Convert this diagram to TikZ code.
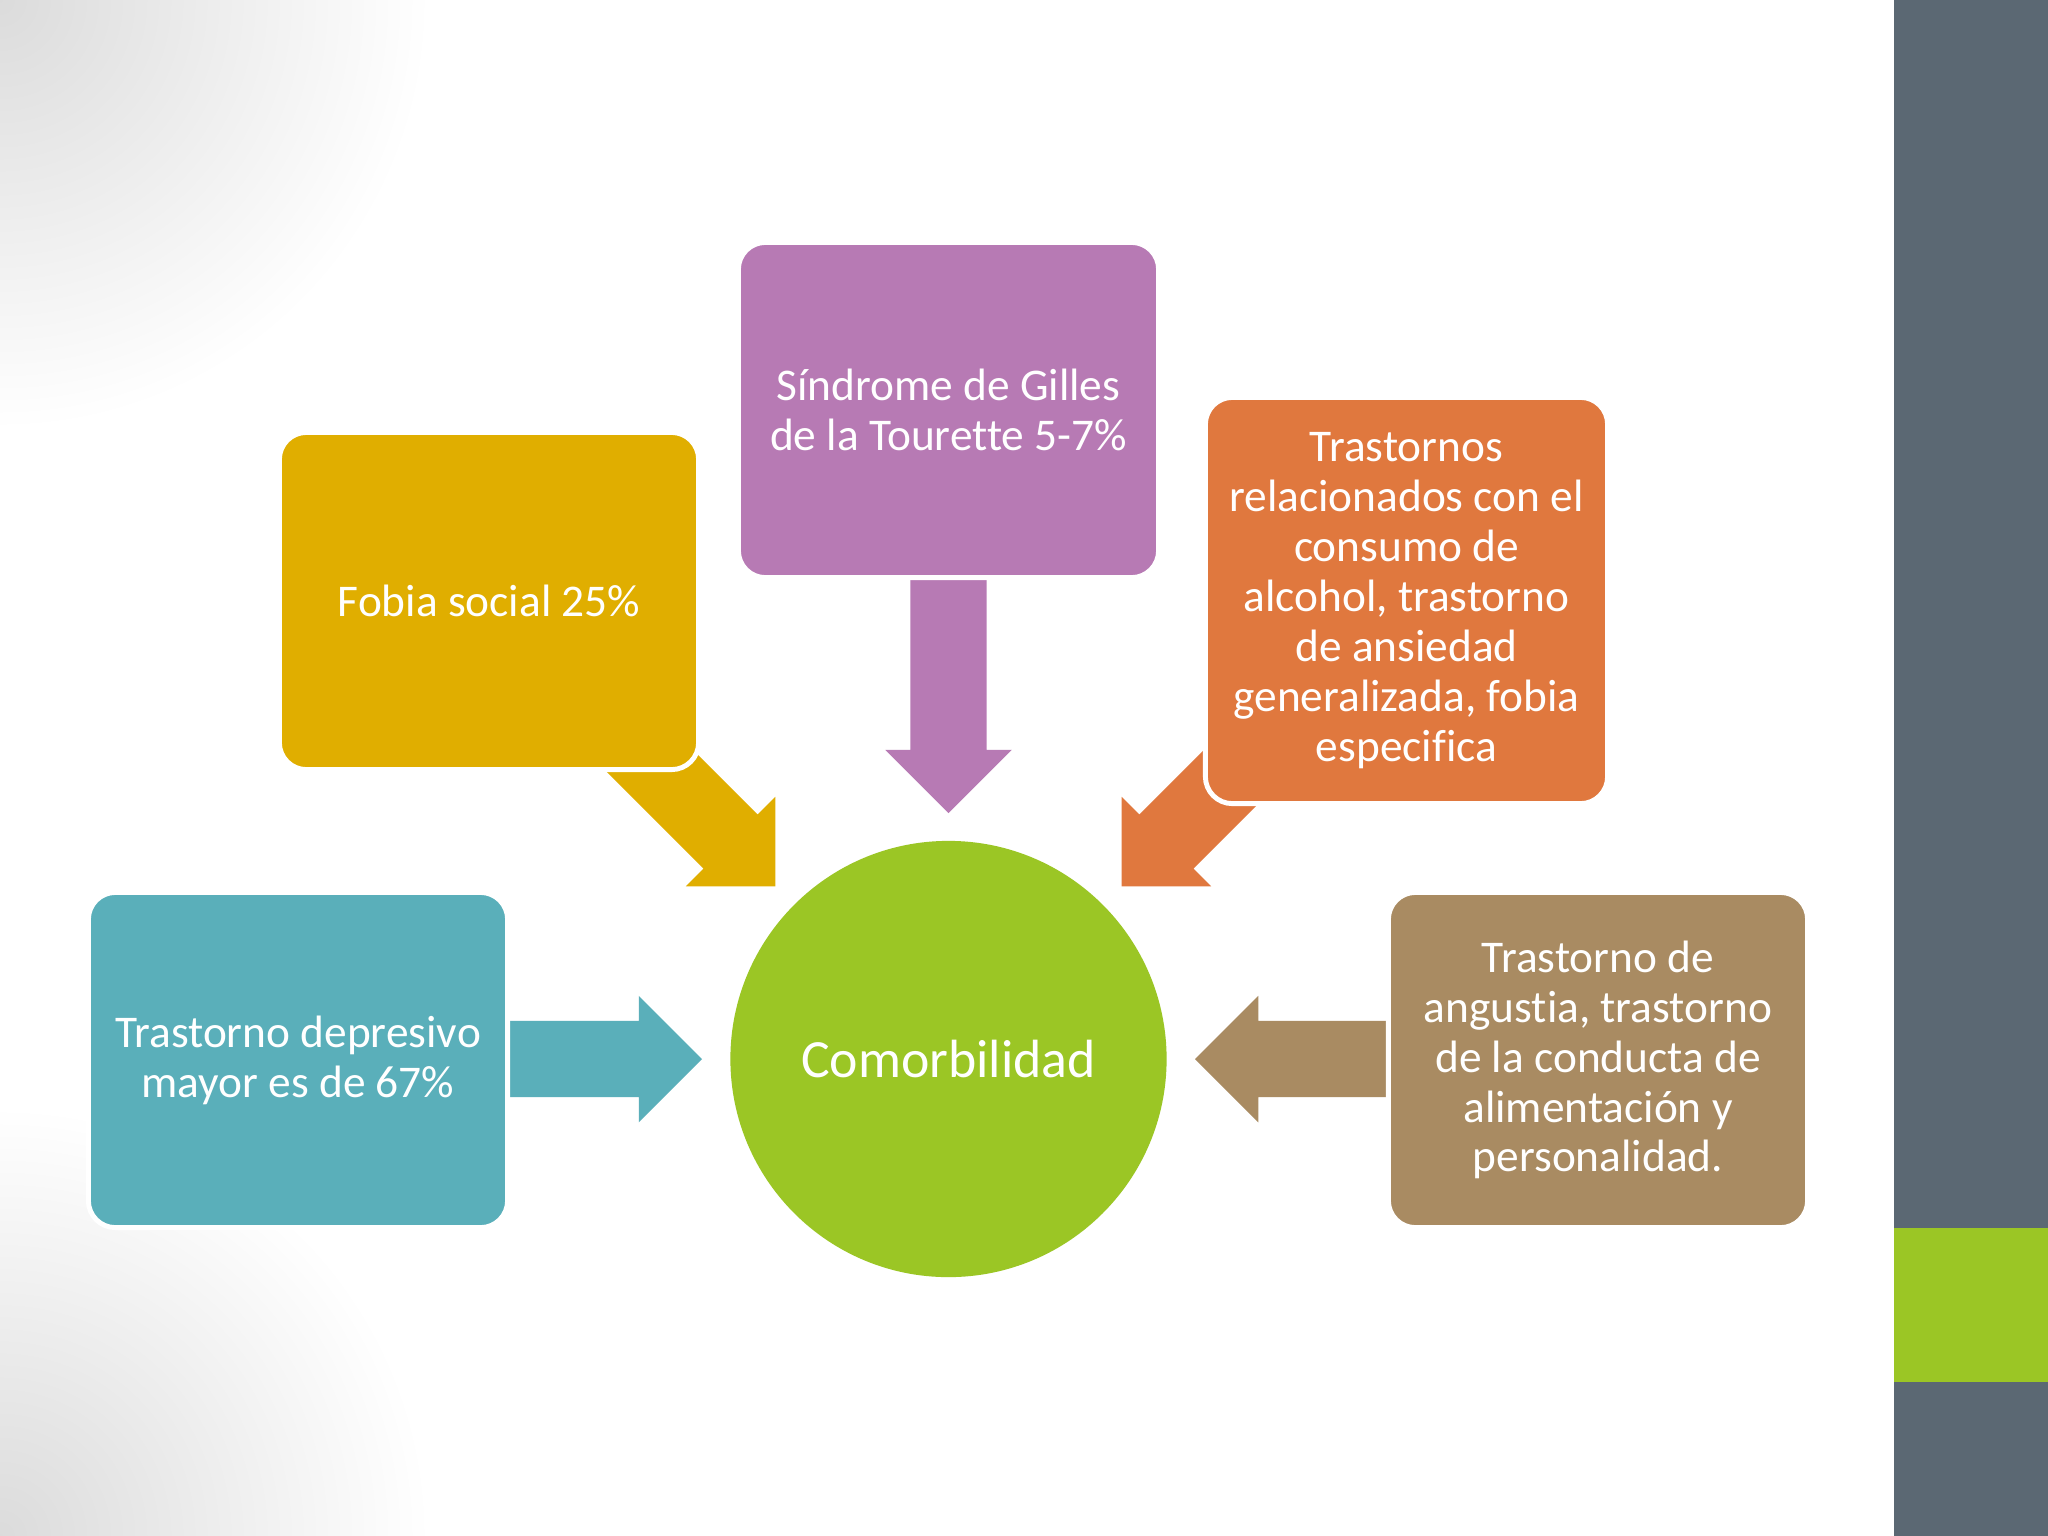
\documentclass[tikz,border=0pt]{standalone}
\usepackage{fontspec}
\setmainfont[Ligatures=NoCommon]{Carlito}
\usetikzlibrary{shapes.arrows}

\definecolor{depcol}{HTML}{5AAFBA}
\definecolor{fobcol}{HTML}{E0AE00}
\definecolor{tourcol}{HTML}{B77AB4}
\definecolor{alccol}{HTML}{E0783E}
\definecolor{angcol}{HTML}{A98B62}
\definecolor{comorcol}{HTML}{9BC625}
\definecolor{barcol}{HTML}{5B6873}

\begin{document}
\begin{tikzpicture}[
    x=0.01cm, y=-0.01cm,
    box/.style={draw=white, line width=1.4pt, rounded corners=0.27cm, inner sep=0pt,
      text=white, align=center, font=\fontsize{12.9}{14.2}\selectfont},
    bigarrow/.style={single arrow, single arrow head extend=0.25cm, inner xsep=0pt,
      inner ysep=0.375cm, minimum width=0pt, anchor=tip},
    corner/.style={inner color=black!14, outer color=white}
  ]
    \useasboundingbox (0,0) rectangle (2048,1536);
    \fill[white] (0,0) rectangle (2048,1536);
    % grey corners of the slide
    \begin{scope}
      \clip (0,0) rectangle (1894,1536);
      \shade[corner] (0,0) circle (430);
      \shade[corner] (0,1536) circle (430);
    \end{scope}

    % side bar
    \fill[barcol] (1894,0) rectangle (2048,1536);
    \fill[comorcol] (1894,1228) rectangle (2048,1382);

    % arrows towards the centre
    \node[bigarrow, fill=depcol, minimum height=2.2cm] (arrdep) at (703,1059) {};
    \node[bigarrow, fill=angcol, minimum height=2.2cm, rotate=180] (arrang) at (1194,1059) {};
    \node[bigarrow, fill=tourcol, minimum height=2.6cm, rotate=-90] (arrtour) at (948.5,814) {};
    \node[bigarrow, fill=fobcol, minimum height=2.5cm, rotate=-45] (arrfob) at (776,887) {};
    \node[bigarrow, fill=alccol, minimum height=2.5cm, rotate=-135] (arralc) at (1121,887) {};

    \node[box, fill=depcol, minimum width=4.19cm, minimum height=3.35cm] (dep) at (298,1060)
      {Trastorno depresivo\\mayor es de 67\%};
    \node[box, fill=fobcol, minimum width=4.19cm, minimum height=3.37cm] (fob) at (489,601)
      {Fobia social 25\%};
    \node[box, fill=tourcol, minimum width=4.20cm, minimum height=3.35cm] (tour) at (948.5,410)
      {Síndrome de Gilles\\de la Tourette 5-7\%};
    \node[box, fill=alccol, minimum width=4.02cm, minimum height=4.06cm] (alc) at (1406.5,600.5)
      {Trastornos\\relacionados con el\\consumo de\\alcohol, trastorno\\de ansiedad\\generalizada, fobia\\especifica};
    \node[box, fill=angcol, minimum width=4.19cm, minimum height=3.35cm] (ang) at (1598,1060)
      {Trastorno de\\angustia, trastorno\\de la conducta de\\alimentación y\\personalidad.};

    \node[circle, fill=comorcol, minimum size=4.36cm, inner sep=0pt, text=white,
      font=\fontsize{15.3}{18}\selectfont] (comor) at (948.5,1059) {Comorbilidad};
\end{tikzpicture}
\end{document}
